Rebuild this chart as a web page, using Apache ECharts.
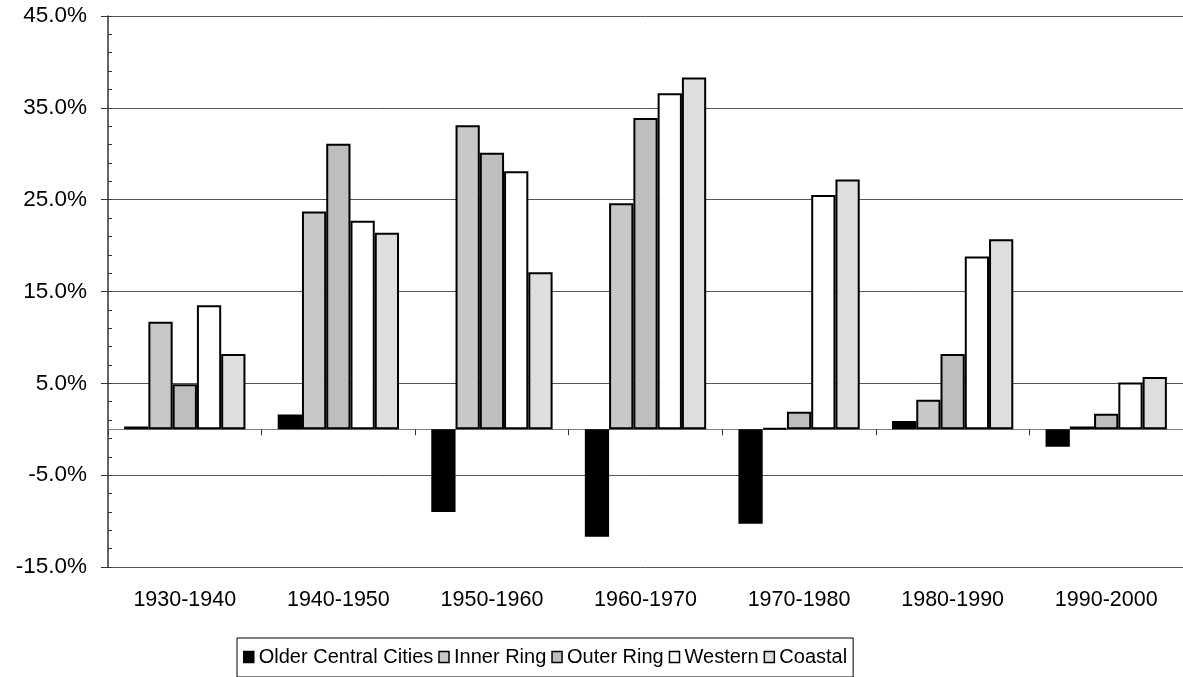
<!DOCTYPE html>
<html>
<head>
<meta charset="utf-8">
<title>Population growth by decade</title>
<script src="https://cdn.jsdelivr.net/npm/echarts@6/dist/echarts.min.js"></script>
<style>
  html, body { margin: 0; padding: 0; background: #ffffff; }
  #chart { width: 1183px; height: 677px; }
</style>
</head>
<body>
<div id="chart"></div>
<script>
// Decades on the category axis
const categories = ['1930-1940', '1940-1950', '1950-1960', '1960-1970', '1970-1980', '1980-1990', '1990-2000'];

// Percent change per decade for each area type
const olderCentral = [0.3, 1.6, -9.0, -11.7, -10.3, 0.9, -1.9];
const innerRing    = [11.7, 23.7, 33.1, 24.6, 0.1, 3.2, 0.3];
const outerRing    = [4.9, 31.1, 30.1, 33.9, 1.9, 8.2, 1.7];
const western      = [13.5, 22.7, 28.1, 36.6, 25.5, 18.8, 5.1];
const coastal      = [8.2, 21.4, 17.1, 38.3, 27.2, 20.7, 5.7];

const seriesNames = ['Older Central Cities', 'Inner Ring', 'Outer Ring', 'Western', 'Coastal'];
const seriesData = [olderCentral, innerRing, outerRing, western, coastal];
const seriesColors = ['#000000', '#c8c8c8', '#bebebe', '#ffffff', '#dedede'];

// Value axis range
const yMin = -15;
const yMax = 45;
const yStep = 10;

const FONT = '"Liberation Sans", Arial, sans-serif';

const chart = echarts.init(document.getElementById('chart'), null, { renderer: 'canvas' });

chart.setOption({
  backgroundColor: '#ffffff',
  animation: false,
  grid: { left: 108, top: 16, width: 1080, height: 551, containLabel: false },
  legend: {
    left: 237,
    top: 638,
    orient: 'horizontal',
    padding: [9, 6, 10, 6],
    borderColor: '#000000',
    borderWidth: 1,
    itemWidth: 10,
    itemHeight: 11,
    itemGap: 5,
    icon: 'rect',
    textStyle: { fontFamily: FONT, fontSize: 20, color: '#000000' },
    data: seriesNames.map(function (n, i) {
      return { name: n, itemStyle: { color: seriesColors[i], borderColor: '#000000', borderWidth: 1.5 } };
    })
  },
  xAxis: [
    {
      // axis line through zero with boundary ticks
      type: 'category',
      data: categories,
      position: 'bottom',
      axisLine: { show: true, onZero: true, lineStyle: { color: '#808080', width: 1 } },
      axisTick: { show: true, alignWithLabel: false, length: 6, lineStyle: { color: '#333333', width: 1 } },
      axisLabel: { show: false },
      splitLine: { show: false }
    },
    {
      // category labels along the bottom of the plot
      type: 'category',
      data: categories,
      position: 'bottom',
      axisLine: { show: false, onZero: false },
      axisTick: { show: false },
      axisLabel: { show: true, margin: 22, fontFamily: FONT, fontSize: 21.5, color: '#000000' },
      splitLine: { show: false }
    }
  ],
  yAxis: [
    {
      type: 'value',
      min: yMin,
      max: yMax,
      interval: yStep,
      position: 'left',
      axisLine: { show: true, lineStyle: { color: '#333333', width: 1.5 } },
      axisTick: { show: true, inside: false, length: 7, lineStyle: { color: '#333333', width: 1 } },
      axisLabel: {
        margin: 21,
        fontFamily: FONT,
        fontSize: 22.5,
        color: '#000000',
        formatter: function (v) { return v.toFixed(1) + '%'; }
      },
      splitLine: { show: true, lineStyle: { color: '#555555', width: 1 } }
    },
    {
      // small inner ticks every 2 percentage points
      type: 'value',
      min: yMin,
      max: yMax,
      interval: 2,
      position: 'left',
      offset: 0,
      axisLine: { show: false },
      axisTick: { show: true, inside: true, length: 4, lineStyle: { color: '#333333', width: 1 } },
      axisLabel: { show: false },
      splitLine: { show: false }
    }
  ],
  series: seriesData.map(function (d, i) {
    return {
      name: seriesNames[i],
      type: 'bar',
      xAxisIndex: 0,
      yAxisIndex: 0,
      data: d,
      barGap: '0%',
      barCategoryGap: '21%',
      itemStyle: { color: seriesColors[i], borderColor: '#000000', borderWidth: 2 },
      emphasis: { disabled: true }
    };
  })
});
</script>
</body>
</html>
